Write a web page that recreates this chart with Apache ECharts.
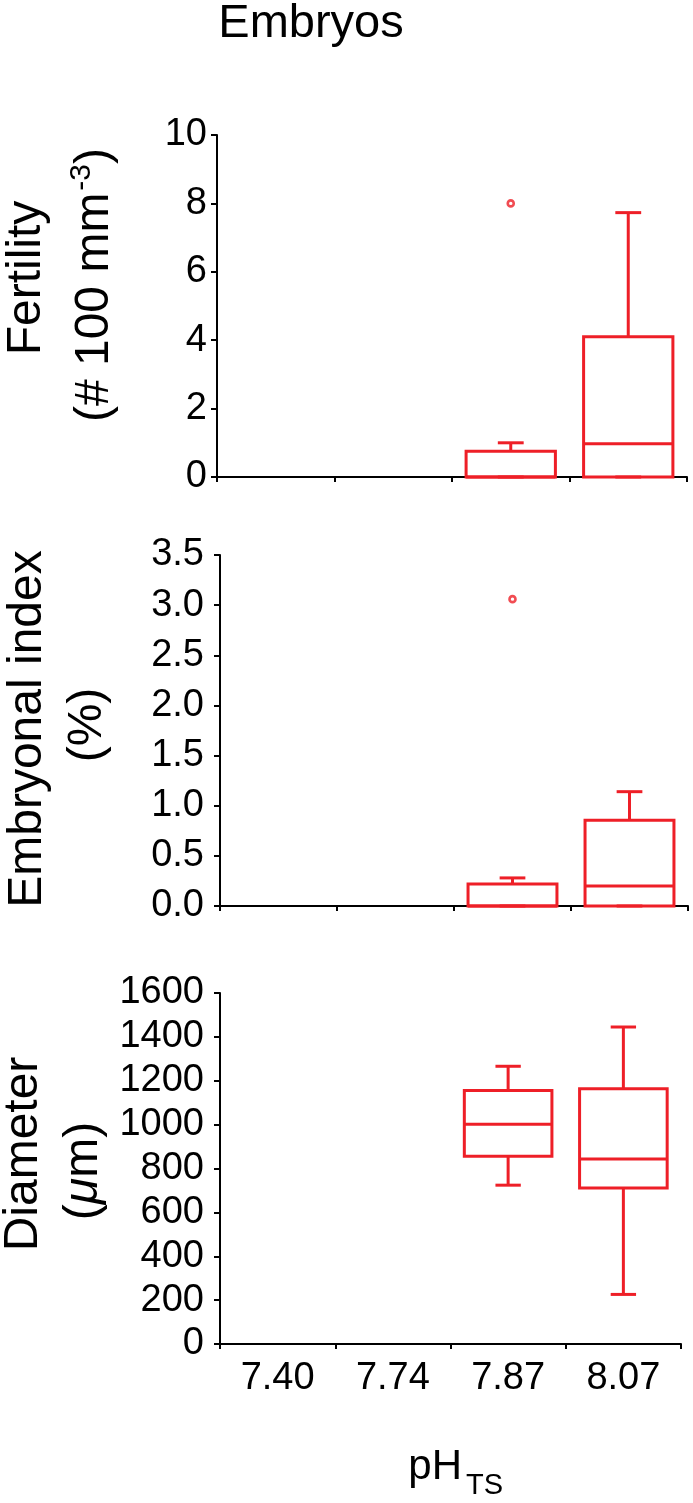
<!DOCTYPE html>
<html>
<head>
<meta charset="utf-8">
<title>Embryos</title>
<script src="https://cdn.jsdelivr.net/npm/echarts@6/dist/echarts.min.js"></script>
<style>
  html, body { margin: 0; padding: 0; background: #fff; }
  #main { width: 693px; height: 1503px; }
</style>
</head>
<body>
<div id="main"></div>
<script>
// x categories (pH_TS)
const categories = ['7.40', '7.74', '7.87', '8.07'];

// boxes: [category index, min, Q1, median, Q3, max]
const fertilityBoxes = [
  [2, 0, 0, 0, 0.75, 1.0],
  [3, 0, 0, 0.97, 4.1, 7.73]
];
const fertilityOutliers = [[2, 8.0]];

const indexBoxes = [
  [2, 0, 0, 0, 0.22, 0.28],
  [3, 0, 0, 0.2, 0.855, 1.14]
];
const indexOutliers = [[2, 3.06]];

const diameterBoxes = [
  [2, 724, 856, 1002, 1155, 1266],
  [3, 226, 711, 843, 1164, 1445]
];
const diameterOutliers = [];

const RED = '#ee1f27';
const FONT = '"Liberation Sans", Arial, sans-serif';

// box with short whisker caps, drawn through the axis scales
function renderBox(params, api) {
  const c = api.value(0);
  const pMin = api.coord([c, api.value(1)]);
  const pQ1 = api.coord([c, api.value(2)]);
  const pMed = api.coord([c, api.value(3)]);
  const pQ3 = api.coord([c, api.value(4)]);
  const pMax = api.coord([c, api.value(5)]);
  const band = api.size([1, 0])[0];
  const cx = pMin[0];
  const half = band * 0.38;
  const cap = band * 0.11;
  const style = { stroke: RED, lineWidth: 3, fill: null };
  const line = (x1, y1, x2, y2) => ({ type: 'line', shape: { x1, y1, x2, y2 }, style });
  return {
    type: 'group',
    children: [
      line(cx, pMax[1], cx, pQ3[1]),
      line(cx - cap, pMax[1], cx + cap, pMax[1]),
      line(cx, pQ1[1], cx, pMin[1]),
      line(cx - cap, pMin[1], cx + cap, pMin[1]),
      { type: 'rect', shape: { x: cx - half, y: pQ3[1], width: half * 2, height: pQ1[1] - pQ3[1] }, style },
      line(cx - half, pMed[1], cx + half, pMed[1])
    ]
  };
}

const grids = [
  { left: 217, top: 135, width: 470, height: 342 },
  { left: 220, top: 555, width: 468, height: 351 },
  { left: 220, top: 993, width: 461, height: 351 }
];

function xAxisFor(i, showLabel) {
  return {
    type: 'category',
    gridIndex: i,
    data: categories,
    boundaryGap: true,
    axisLine: { show: true, lineStyle: { color: '#000', width: 2 } },
    axisTick: { show: true, interval: 0, alignWithLabel: false, length: 5, lineStyle: { color: '#000', width: 2 } },
    axisLabel: { show: showLabel, interval: 0, fontSize: 38, color: '#000', fontFamily: FONT, margin: 16 },
    splitLine: { show: false }
  };
}

function yAxisFor(i, max, interval, margin, fmt) {
  return {
    type: 'value',
    gridIndex: i,
    min: 0,
    max: max,
    interval: interval,
    axisLine: { show: true, lineStyle: { color: '#000', width: 2 } },
    axisTick: { show: true, length: 6, lineStyle: { color: '#000', width: 2 } },
    axisLabel: { fontSize: 38, color: '#000', fontFamily: FONT, margin: margin, formatter: fmt },
    splitLine: { show: false }
  };
}

function boxSeries(i, data) {
  return {
    type: 'custom',
    xAxisIndex: i,
    yAxisIndex: i,
    renderItem: renderBox,
    encode: { x: 0, y: [1, 2, 3, 4, 5] },
    data: data,
    z: 3
  };
}

function outlierSeries(i, data) {
  return {
    type: 'scatter',
    xAxisIndex: i,
    yAxisIndex: i,
    symbol: 'circle',
    symbolSize: 6,
    itemStyle: { color: '#fff', borderColor: RED, borderWidth: 2.6 },
    data: data,
    z: 4
  };
}

function vText(x, y, text, extra) {
  return {
    type: 'text',
    x: x, y: y,
    rotation: Math.PI / 2,
    style: Object.assign({
      text: text,
      fontSize: 48,
      fontFamily: FONT,
      fill: '#000',
      align: 'center',
      verticalAlign: 'middle'
    }, extra || {})
  };
}

const option = {
  animation: false,
  backgroundColor: '#fff',
  grid: grids,
  xAxis: [xAxisFor(0, false), xAxisFor(1, false), xAxisFor(2, true)],
  yAxis: [
    yAxisFor(0, 10, 2, 10, v => String(v)),
    yAxisFor(1, 3.5, 0.5, 16, v => v.toFixed(1)),
    yAxisFor(2, 1600, 200, 16, v => String(v))
  ],
  series: [
    boxSeries(0, fertilityBoxes),
    outlierSeries(0, fertilityOutliers),
    boxSeries(1, indexBoxes),
    outlierSeries(1, indexOutliers),
    boxSeries(2, diameterBoxes),
    outlierSeries(2, diameterOutliers)
  ],
  graphic: [
    {
      type: 'text', x: 311, y: 24,
      style: { text: 'Embryos', fontSize: 47, fontFamily: FONT,
               fill: '#000', align: 'center', verticalAlign: 'middle' }
    },
    vText(27, 278, 'Fertility'),
    vText(95, 285, '{n|(# 100 mm}{s|-3}{n|)}', {
      rich: {
        n: { fontSize: 48, fontFamily: FONT, fill: '#000', lineHeight: 56 },
        s: { fontSize: 30, fontFamily: FONT, fill: '#000', verticalAlign: 'top', lineHeight: 56, padding: [0, 0, 0, 2] }
      }
    }),
    vText(28, 729, 'Embryonal index'),
    vText(88, 725, '(%)'),
    vText(24, 1154, 'Diameter'),
    vText(84, 1171, '{n|(}{i|μ}{n|m)}', {
      rich: {
        n: { fontSize: 48, fontFamily: FONT, fill: '#000' },
        i: { fontSize: 48, fontFamily: FONT, fill: '#000', fontStyle: 'italic' }
      }
    }),
    {
      type: 'text', x: 462, y: 1467,
      style: { text: 'pH', fontSize: 42, fontFamily: FONT, fill: '#000', align: 'right', verticalAlign: 'middle' }
    },
    {
      type: 'text', x: 466, y: 1486,
      style: { text: 'TS', fontSize: 29, fontFamily: FONT, fill: '#000', align: 'left', verticalAlign: 'middle' }
    }
  ]
};

const chart = echarts.init(document.getElementById('main'));
chart.setOption(option);
</script>
</body>
</html>
